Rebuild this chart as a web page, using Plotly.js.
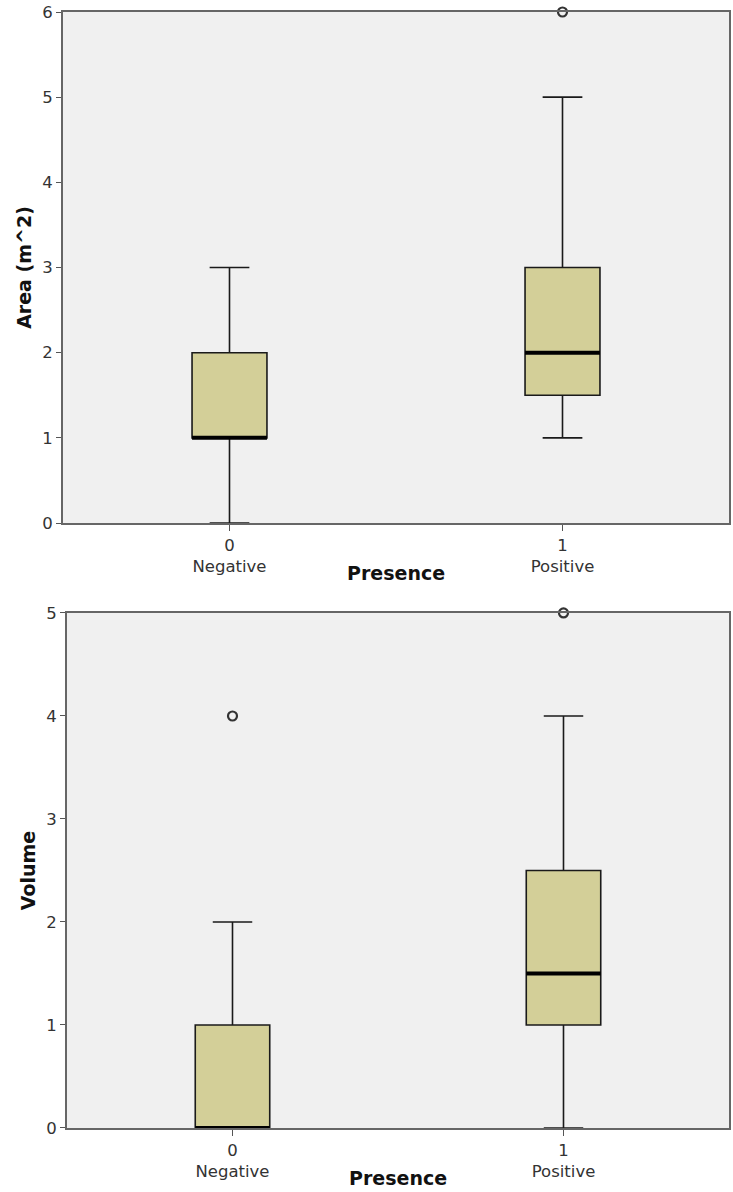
<!DOCTYPE html>
<html>
<head>
<meta charset="utf-8">
<script src="https://cdn.plot.ly/plotly-3.0.1.min.js"></script>
<style>html,body{margin:0;padding:0;background:#fff;}#chart{width:733px;height:1192px;}</style>
</head>
<body>
<div id="chart"></div>
<script>
// Categories (Presence)
var codes = ['0', '1'];
var groupNames = ['Negative', 'Positive'];
var xTitle = 'Presence';

// Area (m^2) box statistics
var areaLower = [0, 1];
var areaQ1 = [1, 1.5];
var areaMedian = [1, 2];
var areaQ3 = [2, 3];
var areaUpper = [3, 5];
var areaOutlierX = ['1'];
var areaOutlierY = [6];

// Volume box statistics
var volLower = [0, 0];
var volQ1 = [0, 1];
var volMedian = [0, 1.5];
var volQ3 = [1, 2.5];
var volUpper = [2, 4];
var volOutlierX = ['0', '1'];
var volOutlierY = [4, 5];

var tickLabels = codes.map(function (c, i) { return c + '<br>' + groupNames[i]; });

var boxFill = '#D3CF98';
var boxGap = 0.775;

function boxTrace(xa, ya, lo, q1, med, q3, hi) {
  return {
    type: 'box', xaxis: xa, yaxis: ya, x: codes,
    lowerfence: lo, q1: q1, median: med, q3: q3, upperfence: hi,
    fillcolor: boxFill, line: {color: '#1a1a1a', width: 1.6},
    whiskerwidth: 0.53, boxpoints: false, hoverinfo: 'skip', showlegend: false
  };
}
function medianTrace(xa, ya, med) {
  return {
    type: 'box', xaxis: xa, yaxis: ya, x: codes,
    lowerfence: med, q1: med, median: med, q3: med, upperfence: med,
    fillcolor: 'rgba(0,0,0,0)', line: {color: '#000000', width: 4},
    whiskerwidth: 0, boxpoints: false, hoverinfo: 'skip', showlegend: false
  };
}
function outlierTrace(xa, ya, xs, ys) {
  return {
    type: 'scatter', mode: 'markers', xaxis: xa, yaxis: ya, x: xs, y: ys,
    marker: {symbol: 'circle-open', size: 9, color: '#333333', line: {width: 2.2, color: '#333333'}},
    cliponaxis: false, hoverinfo: 'skip', showlegend: false
  };
}

var data = [
  boxTrace('x', 'y', areaLower, areaQ1, areaMedian, areaQ3, areaUpper),
  medianTrace('x', 'y', areaMedian),
  outlierTrace('x', 'y', areaOutlierX, areaOutlierY),
  boxTrace('x2', 'y2', volLower, volQ1, volMedian, volQ3, volUpper),
  medianTrace('x2', 'y2', volMedian),
  outlierTrace('x2', 'y2', volOutlierX, volOutlierY)
];

var tickFont = {family: 'DejaVu Sans, Verdana, sans-serif', size: 16.5, color: '#333333'};
var titleFont = {family: 'DejaVu Sans, Verdana, sans-serif', size: 19, color: '#111111', weight: 'bold'};

function xAxis(anchor, domain) {
  return {
    anchor: anchor, domain: domain, type: 'category',
    categoryorder: 'array', categoryarray: codes,
    tickmode: 'array', tickvals: codes, ticktext: tickLabels,
    range: [-0.5, 1.5],
    showline: true, mirror: true, linecolor: '#666666', linewidth: 2,
    ticks: 'outside', ticklen: 6, tickwidth: 1, tickcolor: '#555555',
    showgrid: false, zeroline: false, tickfont: tickFont
  };
}
function yAxis(anchor, domain, maxV, label) {
  return {
    anchor: anchor, domain: domain, range: [0, maxV], dtick: 1,
    showline: true, mirror: true, linecolor: '#666666', linewidth: 2,
    ticks: 'outside', ticklen: 5, tickwidth: 1, tickcolor: '#555555',
    showgrid: false, zeroline: false, tickfont: tickFont,
    title: {text: label, font: titleFont, standoff: 6}
  };
}
function xTitleAnnotation(xref, yref) {
  return {
    text: xTitle, font: titleFont, showarrow: false,
    xref: xref, yref: yref, x: 0.5, y: 0,
    xanchor: 'center', yanchor: 'middle', yshift: -50
  };
}

var layout = {
  width: 733, height: 1192,
  margin: {l: 63, r: 4, t: 12, b: 64},
  paper_bgcolor: '#ffffff', plot_bgcolor: '#F0F0F0',
  boxgap: boxGap, boxgroupgap: 0, boxmode: 'overlay',
  xaxis: xAxis('y', [0, 1]),
  yaxis: yAxis('x', [0.5421, 1], 6, 'Area (m^2)'),
  xaxis2: xAxis('y2', [0.006, 1]),
  yaxis2: yAxis('x2', [0, 0.4615], 5, 'Volume'),
  annotations: [
    xTitleAnnotation('x domain', 'y domain'),
    xTitleAnnotation('x2 domain', 'y2 domain')
  ],
  showlegend: false
};

Plotly.newPlot('chart', data, layout, {displayModeBar: false, staticPlot: true});
</script>
</body>
</html>
